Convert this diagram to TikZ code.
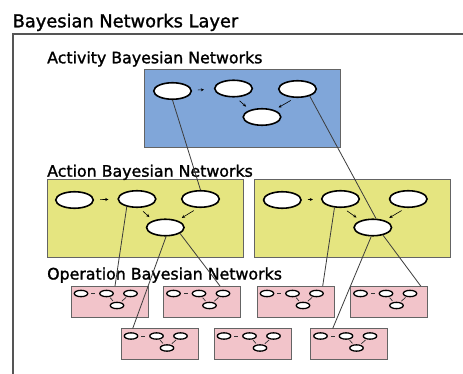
\documentclass[tikz,border=0pt]{standalone}
\usepackage{fontspec}
\setmainfont{DejaVu Sans}
\newfontfamily\labelfont{DejaVu Sans}[FakeBold=1.4]
\usetikzlibrary{shapes.geometric,arrows.meta,calc}

\definecolor{actblue}{RGB}{128,166,217}
\definecolor{actyellow}{RGB}{229,229,128}
\definecolor{oppink}{RGB}{242,196,202}
\definecolor{edgegray}{RGB}{100,100,100}
\definecolor{linkgray}{RGB}{60,60,60}
\definecolor{framegray}{RGB}{85,85,85}

% one small operation network: box, four variables, three arcs
\newcommand\opnet[3]{%
  \node[opbox] (#1) at (#2,#3) {};
  \node[snode] (#1a) at ($(#1.north west)+(10,7.5)$) {};
  \node[snode] (#1b) at ($(#1.north west)+(35.5,7.5)$) {};
  \node[snode] (#1c) at ($(#1.north west)+(59.5,7.5)$) {};
  \node[snode] (#1d) at ($(#1.north west)+(46,19.5)$) {};
  \draw[tinyarc, shorten <=3pt, shorten >=4pt] (#1a) -- (#1b);
  \draw[tinyarc, shorten <=1pt, shorten >=1.5pt] (#1b) -- (#1d);
  \draw[tinyarc, shorten <=1pt, shorten >=1.5pt] (#1c) -- (#1d);
}

\begin{document}
\begin{tikzpicture}[x=1pt,y=-1pt,
  titletext/.style={anchor=base west, inner sep=0, font=\labelfont\fontsize{17.8}{20}\selectfont},
  layerlabel/.style={anchor=base west, inner sep=0, font=\labelfont\fontsize{15.8}{18}\selectfont},
  frame/.style={draw=framegray, line width=1.5pt},
  panel/.style={draw=edgegray, line width=0.8pt},
  bnode/.style={ellipse, draw=black, fill=white, line width=1.6pt,
    minimum width=37.5pt, minimum height=16.5pt, inner sep=0},
  snode/.style={ellipse, draw=black, fill=white, line width=1.3pt,
    minimum width=13.5pt, minimum height=6.3pt, inner sep=0},
  opbox/.style={rectangle, draw=edgegray, fill=oppink, line width=0.8pt,
    minimum width=77pt, minimum height=31pt, anchor=north west,
    inner sep=0, outer sep=0},
  arc/.style={draw=black, line width=0.6pt, -{Stealth[length=3.2pt,width=3pt]}},
  tinyarc/.style={draw=black!80, line width=0.7pt},
  link/.style={draw=linkgray, line width=0.8pt}]

\useasboundingbox (0,0) rectangle (463,374);
\fill[white] (0,0) rectangle (463,374);

% layer title and frame
\node[titletext] (title) at (12.5,27.3) {Bayesian Networks Layer};
\draw[frame] (463,34) -- (13,34) -- (13,374);

% activity level
\draw[panel, fill=actblue] (144,69) rectangle (340,147);
\node[layerlabel] (actlabel) at (47,63.3) {Activity Bayesian Networks};
\node[bnode] (e1) at (172.5,91) {};
\node[bnode] (e2) at (233.5,88.5) {};
\node[bnode] (e3) at (297.5,89) {};
\node[bnode] (e4) at (262,117) {};
\draw[arc, shorten <=6pt, shorten >=10pt] (e1) -- (e2);
\draw[arc, shorten <=5pt, shorten >=5pt] (e2.-75) -- (e4.150);
\draw[arc, shorten <=5pt, shorten >=5pt] (e3.-105) -- (e4.30);

% action level
\draw[panel, fill=actyellow] (47,179) rectangle (243,257);
\draw[panel, fill=actyellow] (254,179) rectangle (450,257);
\node[layerlabel] (aclabel) at (47,176.7) {Action Bayesian Networks};
\node[bnode] (a1) at (74.5,200) {};
\node[bnode] (a2) at (137,199) {};
\node[bnode] (a3) at (200.5,199) {};
\node[bnode] (a4) at (165.3,227.5) {};
\draw[arc, shorten <=6pt, shorten >=9pt] (a1) -- (a2);
\draw[arc, shorten <=5pt, shorten >=5pt] (a2.-75) -- (a4.150);
\draw[arc, shorten <=5pt, shorten >=5pt] (a3.-105) -- (a4.30);

\node[bnode] (b1) at (282.3,200) {};
\node[bnode] (b2) at (340.5,199) {};
\node[bnode] (b3) at (408.3,199) {};
\node[bnode] (b4) at (372.8,227.5) {};
\draw[arc, shorten <=6pt, shorten >=8pt] (b1) -- (b2);
\draw[arc, shorten <=5pt, shorten >=5pt] (b2.-75) -- (b4.150);
\draw[arc, shorten <=5pt, shorten >=5pt] (b3.-105) -- (b4.30);

% operation level
\node[layerlabel] (oplabel) at (47,279.5) {Operation Bayesian Networks};
\opnet{p1}{71}{286}
\opnet{p2}{163.5}{286}
\opnet{p3}{257}{286}
\opnet{p4}{350.5}{286}
\opnet{p5}{121}{328.5}
\opnet{p6}{214}{328.5}
\opnet{p7}{310.5}{328.5}

% links between levels
\draw[link] (e1.south) -- (a3.north);
\draw[link] (e3.-30) -- (b4.70);
\draw[link] (a2.-143) -- ($(p1.north west)+(44,0)$);
\draw[link] (a4.-85) -- ($(p5.north west)+(11.7,0)$);
\draw[link] (a4.-22) -- ($(p2.north west)+(56.5,0)$);
\draw[link] (b2.-125) -- ($(p3.north west)+(65.7,0)$);
\draw[link] (b4.-100) -- ($(p7.north west)+(22.2,0)$);
\draw[link] (b4.-37) -- ($(p4.north west)+(70.2,0)$);
\end{tikzpicture}
\end{document}
